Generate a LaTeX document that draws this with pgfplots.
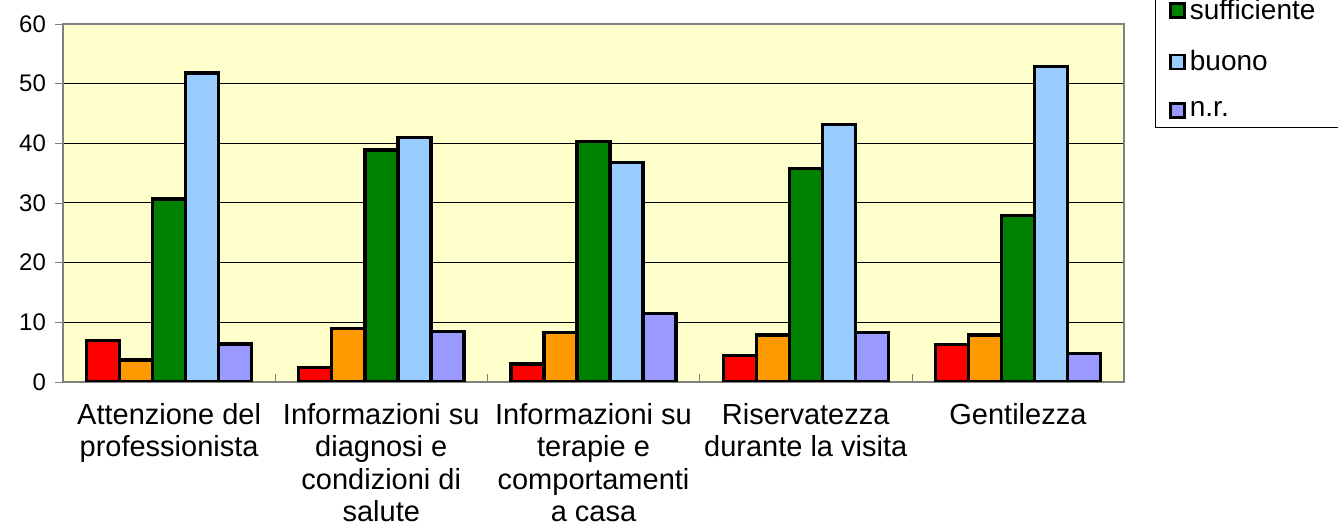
\documentclass[border=0pt]{standalone}
\usepackage{fontspec}
\setmainfont{Liberation Sans}
\usepackage{pgfplots}
\pgfplotsset{compat=1.18}
\definecolor{bgy}{HTML}{FFFFCC}
\definecolor{cred}{HTML}{FF0000}
\definecolor{corange}{HTML}{FF9900}
\definecolor{cgreen}{HTML}{008000}
\definecolor{cblue}{HTML}{99CCFF}
\definecolor{cviolet}{HTML}{9999FF}
\definecolor{frame}{HTML}{808080}

\pgfplotstableread{
cat  scarso insuff suff  buono nr
0    7.0    3.7    30.7  51.8  6.4
1    2.4    9.0    38.9  41.0  8.5
2    3.0    8.3    40.3  36.8  11.5
3    4.4    7.9    35.8  43.2  8.3
4    6.3    7.9    27.9  52.9  4.8
}\datatable

\begin{document}
\begin{tikzpicture}
\begin{axis}[
  name=ax,
  width=530.5pt, height=179pt, scale only axis,
  ybar=0pt, bar width=16.5pt,
  xmin=-0.5, xmax=4.5, ymin=0, ymax=60,
  ytick={0,10,...,60},
  xtick={0,1,2,3,4},
  xticklabels={Attenzione del\\professionista,
    Informazioni su\\diagnosi e\\condizioni di\\salute,
    Informazioni su\\terapie e\\comportamenti\\a casa,
    Riservatezza\\durante la visita,
    Gentilezza},
  minor xtick={0.5,1.5,2.5,3.5},
  xtick pos=bottom, ytick pos=left,
  major x tick style={draw=none},
  minor x tick style={draw=frame, yshift=4pt},
  minor tick length=4pt,
  major tick length=4pt,
  tick align=outside,
  ytick style={draw=frame},
  ymajorgrids, grid style={black, line width=0.5pt},
  axis line style={draw=frame, line width=0.8pt},
  axis background/.style={fill=bgy},
  /pgf/number format/assume math mode=true,
  yticklabel style={font=\fontsize{12}{14}\selectfont, xshift=-1pt},
  xticklabel style={font=\fontsize{14.5}{16.3}\selectfont, align=center, anchor=north, yshift=-3pt},
  every axis plot/.append style={draw=black, line width=1.7pt},
  legend style={at={(1.0292,0.7095)}, anchor=south west, draw=black, line width=0.5pt,
    fill=white, font=\fontsize{14}{16}\selectfont, row sep=10pt,
    inner xsep=7pt, inner ysep=2pt},
  legend cell align=left,
  legend image code/.code={\draw[#1, line width=1.2pt] (0pt,-3.5pt) rectangle (7pt,3.5pt);},
]
\addplot[fill=cred, bar shift=-33pt, forget plot] table[x=cat, y=scarso] {\datatable};
\addplot[fill=corange, bar shift=-16.5pt, forget plot] table[x=cat, y=insuff] {\datatable};
\addplot[fill=cgreen, bar shift=0pt] table[x=cat, y=suff] {\datatable};
\addplot[fill=cblue, bar shift=16.5pt] table[x=cat, y=buono] {\datatable};
\addplot[fill=cviolet, bar shift=33pt] table[x=cat, y=nr] {\datatable};
\legend{sufficiente\hspace*{30pt}, buono, n.r.}
\end{axis}
\pgfresetboundingbox
\path ([xshift=-31.5pt, yshift=-73pt]ax.south west) rectangle ([xshift=107pt, yshift=12pt]ax.north east);
\end{tikzpicture}
\end{document}
